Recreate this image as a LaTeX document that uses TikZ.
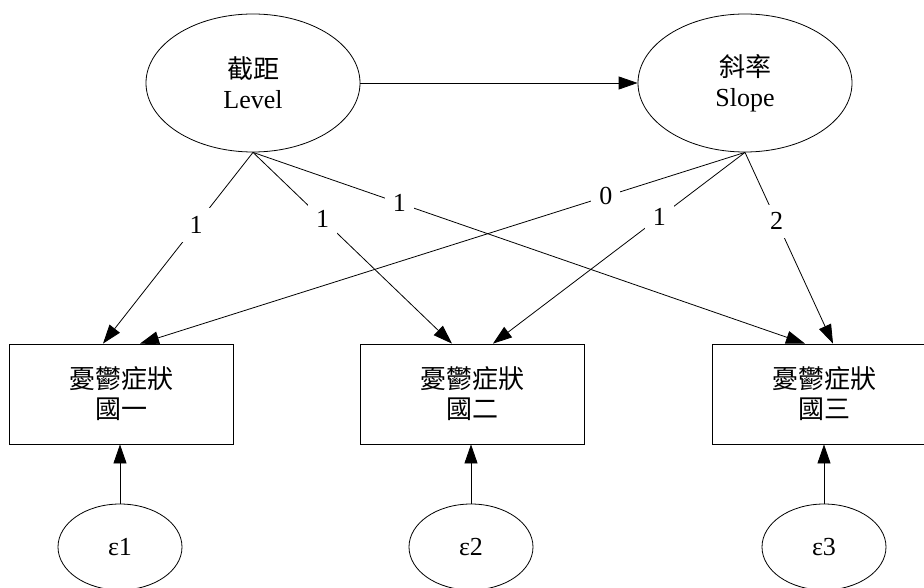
\documentclass[tikz,border=0pt]{standalone}
\usepackage{fontspec}
\setmainfont{Liberation Serif}
\newfontfamily\cjk{Noto Sans CJK TC}
\usetikzlibrary{shapes.geometric,arrows.meta}
\tikzset{
  every node/.style={font=\fontsize{26}{30}\selectfont},
  latent/.style={ellipse,draw,line width=0.8pt,minimum width=214pt,minimum height=138pt,inner sep=0pt,align=center},
  errnode/.style={ellipse,draw,line width=0.8pt,minimum width=124pt,minimum height=86pt,inner sep=0pt},
  obsbox/.style={rectangle,draw,line width=0.8pt,minimum width=224pt,minimum height=100pt,inner sep=0pt,align=center},
  conn/.style={line width=0.8pt,-{Triangle[length=19pt,width=13pt]}},
  lbl/.style={fill=white,inner sep=8pt}
}
\begin{document}
\begin{tikzpicture}[x=1pt,y=-1pt]
\useasboundingbox (0,0) rectangle (924,588);
\clip (0,0) rectangle (924,588);
\node[latent] (L) at (253,83) {{\cjk 截距}\\Level};
\node[latent] (S) at (745,83) {{\cjk 斜率}\\Slope};
\node[obsbox] (b1) at (121,394) {{\cjk 憂鬱症狀}\\{\cjk 國一}};
\node[obsbox] (b2) at (472.5,394) {{\cjk 憂鬱症狀}\\{\cjk 國二}};
\node[obsbox] (b3) at (824,394) {{\cjk 憂鬱症狀}\\{\cjk 國三}};
\node[errnode] (e1) at (120,547) {ε1};
\node[errnode] (e2) at (471,547) {ε2};
\node[errnode] (e3) at (824,547) {ε3};
\draw[conn] (L.east) -- (S.west);
\draw[conn] (L.south) -- node[lbl,pos=0.38] {1} ([xshift=-18pt]b1.north);
\draw[conn] (L.south) -- node[lbl,pos=0.35] {1} ([xshift=-20.5pt]b2.north);
\draw[conn] (L.south) -- node[lbl,pos=0.265] {1} ([xshift=-19pt]b3.north);
\draw[conn] (S.south) -- node[lbl,pos=0.23] {0} ([xshift=19pt]b1.north);
\draw[conn] (S.south) -- node[lbl,pos=0.34] {1} ([xshift=20.5pt]b2.north);
\draw[conn] (S.south) -- node[lbl,pos=0.36] {2} ([xshift=9pt]b3.north);
\draw[conn] (e1.north) -- (e1.north |- b1.south);
\draw[conn] (e2.north) -- (e2.north |- b2.south);
\draw[conn] (e3.north) -- (e3.north |- b3.south);
\end{tikzpicture}
\end{document}
